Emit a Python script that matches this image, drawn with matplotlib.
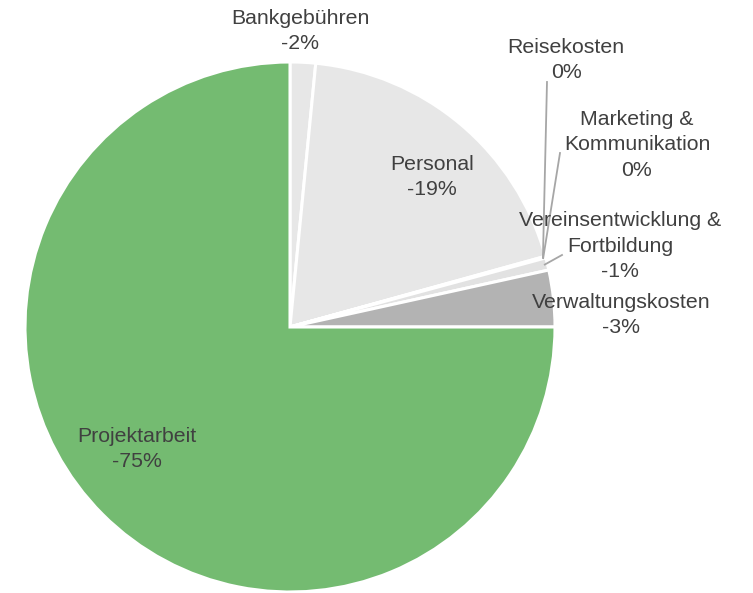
import numpy as np
from matplotlib import pyplot as plt

# Kostenanteile (im Uhrzeigersinn ab 12 Uhr)
categories = ['Bankgebühren', 'Personal', 'Reisekosten', 'Marketing &\nKommunikation',
              'Vereinsentwicklung &\nFortbildung', 'Verwaltungskosten', 'Projektarbeit']
values = [1.55, 19.15, 0.05, 0.05, 0.75, 3.45, 75.0]
colors = ['#E7E7E7', '#E7E7E7', '#D9D9D9', '#D9D9D9', '#E2E2E2', '#B3B3B3', '#74BB71']

# label block centres in pixels (x, y from top)
label_px = [(300, 31), (432, 177), (566, 60), (637, 145), (620, 246), (621, 315), (137, 449)]
# leader line ends (pixels) for the tiny slices, None = no line
leader_px = [None, None, (547, 82), (560, 153), (562, 255), None, None]

W, H = 753, 593
cx, cy, r = 290, 327, 265

plt.rcParams['font.family'] = ['Liberation Sans', 'DejaVu Sans']
fig = plt.figure(figsize=(W / 100, H / 100), dpi=100)
ax = fig.add_axes([(cx - r) / W, (H - cy - r) / H, 2 * r / W, 2 * r / H])

wedges, _ = ax.pie(values, colors=colors, startangle=90, counterclock=False,
                   wedgeprops=dict(edgecolor='white', linewidth=2.2))
ax.set_xlim(-1, 1)
ax.set_ylim(-1, 1)
ax.axis('off')


def to_data(px, py):
    return (px - cx) / r, (cy - py) / r


total = sum(values)
start = 90.0
for i, (cat, v) in enumerate(zip(categories, values)):
    pct = round(v / total * 100)
    txt = f"{cat}\n{'-' if pct else ''}{pct}%"
    tx, ty = to_data(*label_px[i])
    ax.text(tx, ty, txt, ha='center', va='center', fontsize=15.3,
            color='#404040', linespacing=1.42)
    mid = np.deg2rad(start - v / total * 360 / 2)
    if leader_px[i] is not None:
        lx, ly = to_data(*leader_px[i])
        ax.plot([np.cos(mid) * 0.99, lx], [np.sin(mid) * 0.99, ly],
                color='#A6A6A6', lw=1.3, clip_on=False)
    start -= v / total * 360

fig.savefig('out.png', dpi=100)
